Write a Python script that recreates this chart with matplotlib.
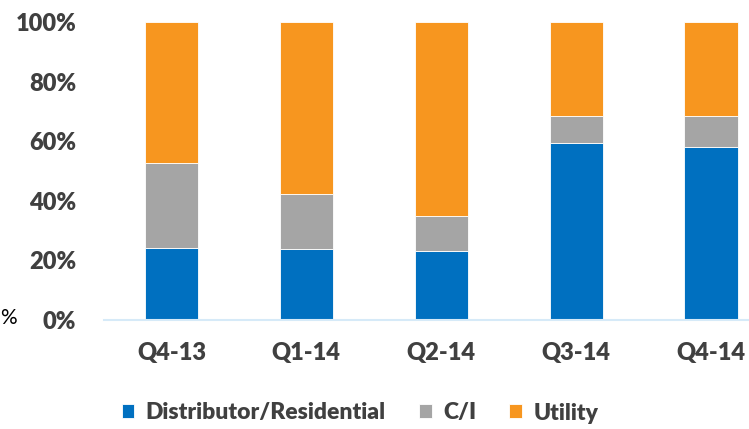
import matplotlib
matplotlib.use("Agg")
import matplotlib.pyplot as plt
import numpy as np

categories = ["Q4-13", "Q1-14", "Q2-14", "Q3-14", "Q4-14"]
distributor = [24.2, 23.7, 23.3, 59.5, 58.2]
ci = [28.5, 18.6, 11.6, 9.1, 10.4]
utility = [100 - d - c for d, c in zip(distributor, ci)]
yticks = [0, 20, 40, 60, 80, 100]
series_names = ["Distributor/Residential", "C/I", "Utility"]
colors = ["#0070C0", "#A5A5A5", "#F7961F"]

plt.rcParams['font.family'] = ['Lato', 'DejaVu Sans']
W, H = 749, 429
fig = plt.figure(figsize=(W / 100, H / 100), dpi=100)
ax = fig.add_axes([104 / W, 1 - 320 / H, (778.5 - 104) / W, (320 - 22) / H])

x = np.arange(len(categories))
bw = 0.395
bottom = np.zeros(len(categories))
handles = []
for vals, col, name in zip([distributor, ci, utility], colors, series_names):
    b = ax.bar(x, vals, bw, bottom=bottom, color=col, label=name,
               edgecolor="#ffffff", linewidth=0.6)
    bottom += np.array(vals)
    handles.append(b)

ax.set_xlim(-0.5, len(categories) - 0.5)
ax.set_ylim(0, 100)
ax.set_yticks(yticks)
ax.set_yticklabels([f"{v}%" for v in yticks])
ax.set_xticks(x)
ax.set_xticklabels(categories)
for lab in ax.get_yticklabels() + ax.get_xticklabels():
    lab.set_fontweight("heavy")
    lab.set_fontsize(17)
    lab.set_color("#404040")
ax.tick_params(axis="y", length=0, pad=20)
ax.tick_params(axis="x", length=0, pad=16)
for s in ["top", "right", "left"]:
    ax.spines[s].set_visible(False)
ax.spines["bottom"].set_color("#D6EAF8")
ax.spines["bottom"].set_linewidth(1.5)

leg = fig.legend(handles=handles, labels=series_names, loc="center",
                 bbox_to_anchor=(360 / W, 1 - 413 / H), ncol=3, frameon=False,
                 prop={"weight": "heavy", "size": 16.5}, handlelength=0.55,
                 handleheight=0.55, handletextpad=0.5, columnspacing=1.45)
for t in leg.get_texts():
    t.set_color("#404040")

fig.text(0.5 / W, 1 - 318 / H, "%", ha="left", va="center", fontsize=15,
         color="#000000")

fig.savefig("out.png", dpi=100)
